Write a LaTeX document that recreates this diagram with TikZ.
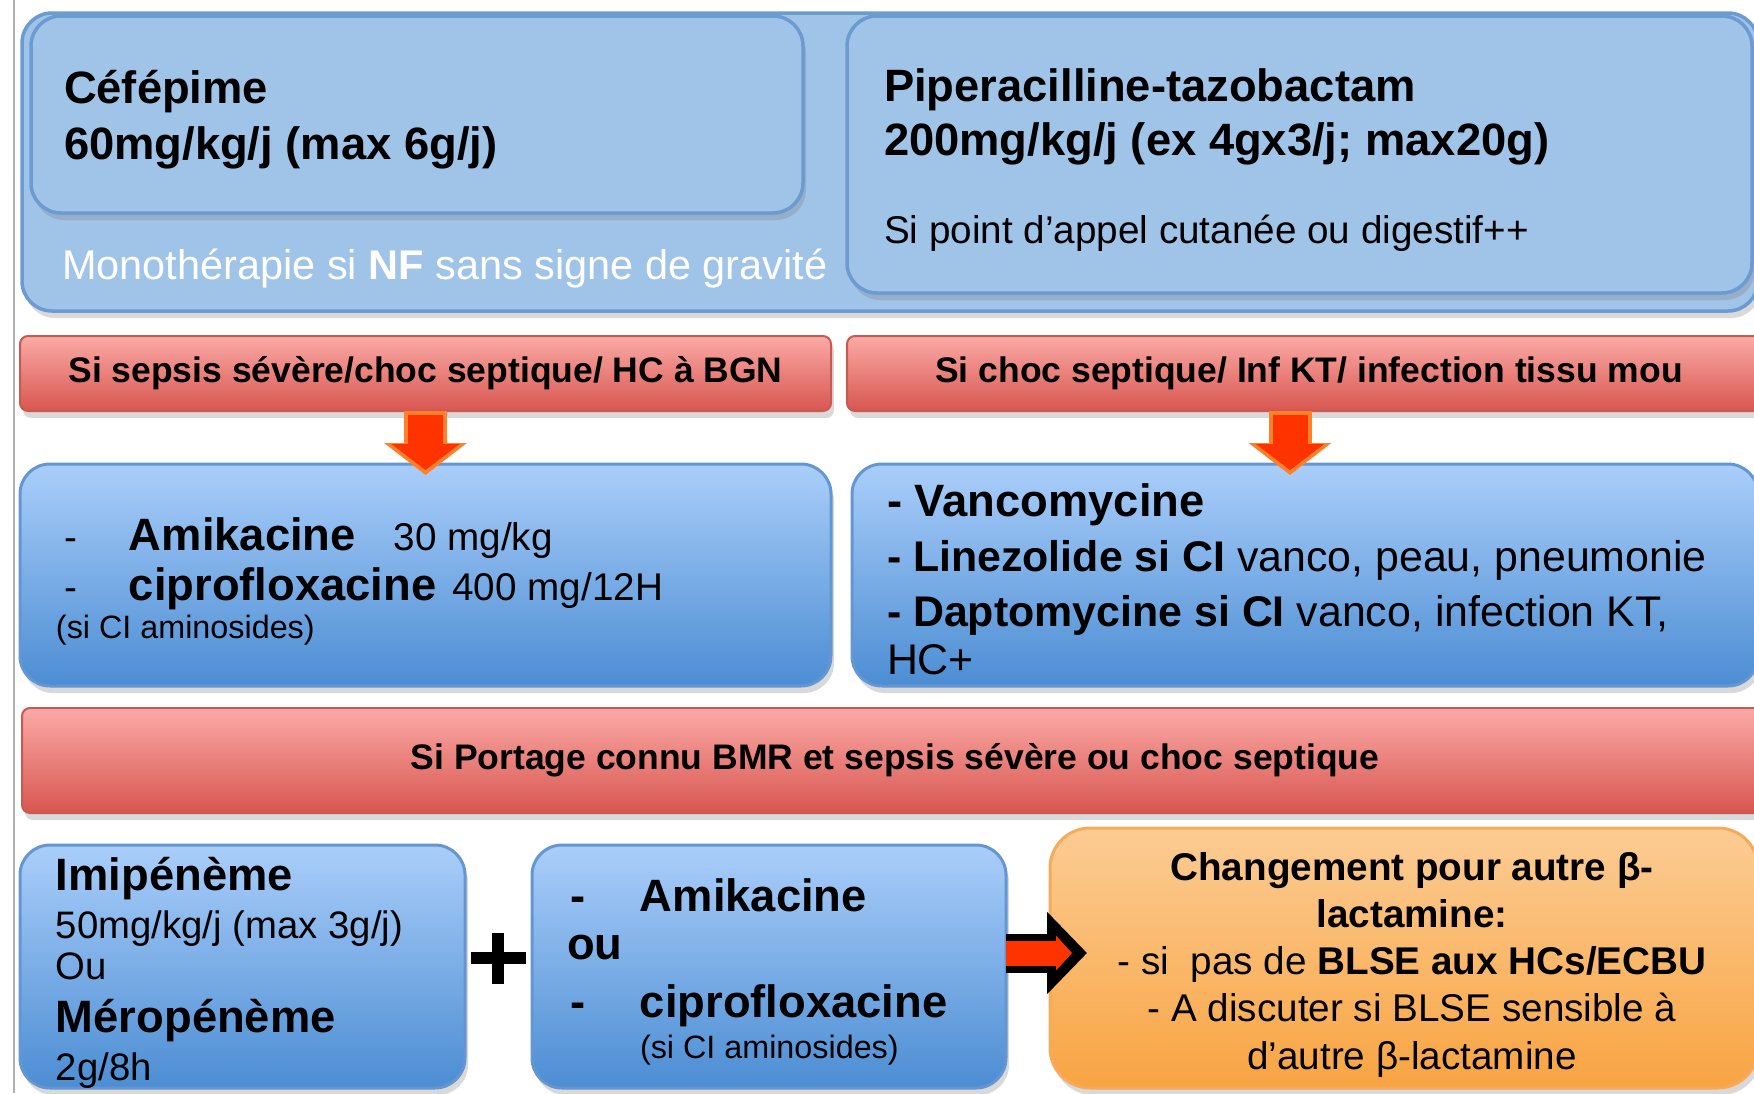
\documentclass[tikz,border=0pt]{standalone}
\usepackage{fontspec}
\setmainfont{Liberation Sans}
\usetikzlibrary{shadows,arrows.meta}
\definecolor{monofill}{RGB}{160,195,232}
\definecolor{monoline}{RGB}{108,155,210}
\definecolor{bluetop}{RGB}{170,206,250}
\definecolor{bluebot}{RGB}{76,141,211}
\definecolor{blueline}{RGB}{100,150,210}
\definecolor{redtop}{RGB}{251,170,166}
\definecolor{redbot}{RGB}{216,86,80}
\definecolor{redline}{RGB}{200,90,86}
\definecolor{orangetop}{RGB}{252,204,148}
\definecolor{orangebot}{RGB}{248,164,66}
\definecolor{orangeline}{RGB}{246,170,90}
\definecolor{arrowred}{RGB}{255,51,0}
\definecolor{arroworange}{RGB}{255,128,40}
\definecolor{framegray}{RGB}{176,176,176}
\begin{document}
\begin{tikzpicture}[x=0.1mm, y=-0.1mm, every node/.style={inner sep=0, outer sep=0},
    boxshadow/.style={drop shadow={opacity=0.3, shadow xshift=0.3mm, shadow yshift=-0.7mm}},
    monobox/.style={anchor=north west, draw=monoline, line width=0.35mm, fill=monofill,
      rounded corners=3mm, boxshadow},
    condbox/.style={anchor=north west, draw=redline, line width=0.2mm, top color=redtop,
      bottom color=redbot, rounded corners=0.8mm, boxshadow, minimum height=7.5mm,
      font=\bfseries\fontsize{10.1}{12}\selectfont},
    drugbox/.style={anchor=north west, draw=blueline, line width=0.3mm, top color=bluetop,
      bottom color=bluebot, rounded corners=3mm, boxshadow},
    changebox/.style={anchor=north west, draw=orangeline, line width=0.3mm, top color=orangetop,
      bottom color=orangebot, rounded corners=4mm, boxshadow},
    txt/.style={anchor=base west, align=left},
    downout/.style={arroworange, line width=4.3mm, -{Triangle[width=8.1mm,length=3.2mm]}, shorten >=-1.1mm},
    downin/.style={arrowred, line width=3.5mm, -{Triangle[width=6.7mm,length=2.6mm]}, shorten <=0.4mm, shorten >=-0.6mm},
    rightout/.style={black, line width=3.9mm, -{Triangle[width=8mm,length=4mm]}, shorten >=-3.7mm},
    rightin/.style={arrowred, line width=2.5mm, -{Triangle[width=3.4mm,length=1.6mm]}, shorten >=-2.2mm}]
  \useasboundingbox (0,0) rectangle (1754,1093);
  \draw[framegray, line width=0.25mm] (14,0) -- (14,1093);

  \node[monobox, minimum width=173.6mm, minimum height=29.8mm] (mono) at (22,13) {};
  \node[monobox, minimum width=77.2mm, minimum height=19.7mm] (cefe) at (31,16) {};
  \node[monobox, minimum width=90.5mm, minimum height=27.7mm] (pip) at (847,16) {};

  \node[condbox, minimum width=81.1mm] (sep1) at (20,336) {Si sepsis sévère/choc septique/ HC à BGN};
  \node[condbox, minimum width=92.4mm] (sep2) at (847,336) {Si choc septique/ Inf KT/ infection tissu mou};

  \node[drugbox, minimum width=81.1mm, minimum height=22.2mm] (drugA) at (20,464) {};
  \node[drugbox, minimum width=90.6mm, minimum height=22.2mm] (drugB) at (852,464) {};

  \node[condbox, minimum width=174.6mm, minimum height=10.5mm] (sep3) at (22,708) {Si Portage connu BMR et sepsis sévère ou choc septique};

  \node[drugbox, minimum width=44.5mm, minimum height=24.3mm] (carbA) at (20,845) {};
  \node[drugbox, minimum width=47.4mm, minimum height=24.3mm] (aminoB) at (532,845) {};
  \node[changebox, minimum width=70.8mm, minimum height=26mm] (change) at (1050,828) {};

  \node[txt, font=\bfseries\fontsize{12.9}{15.9}\selectfont] (cefetxt) at (64,159)
    {Céfépime\\60mg/kg/j (max 6g/j)};
  \node[txt, text=white, font=\fontsize{11.8}{14}\selectfont] (monotxt) at (62,279)
    {Monothérapie si \textbf{NF} sans signe de gravité};
  \node[txt, font=\bfseries\fontsize{12.9}{15.4}\selectfont] (piptxt) at (884,243)
    {Piperacilline-tazobactam\\200mg/kg/j (ex 4gx3/j; max20g)\\[9.4pt]
     {\mdseries\fontsize{11}{13}\selectfont Si point d’appel cutanée ou digestif++}};

  \node[txt, font=\fontsize{11}{14.2}\selectfont] (amiktxt) at (56,638)
    {\hspace*{0.8mm}\makebox[6.5mm][l]{-}{\bfseries\fontsize{12.9}{15}\selectfont Amikacine}\hspace{3.8mm}30 mg/kg\\
     \hspace*{0.8mm}\makebox[6.5mm][l]{-}{\bfseries\fontsize{12.9}{15}\selectfont ciprofloxacine}\hspace{1.6mm}400 mg/12H\\[-3.4pt]
     {\fontsize{9.2}{11}\selectfont (si CI aminosides)}};
  \node[txt, font=\fontsize{12.2}{15.6}\selectfont] (vanctxt) at (887,674)
    {{\bfseries\fontsize{12.9}{15}\selectfont - Vancomycine}\\
     \textbf{- Linezolide si CI} vanco, peau, pneumonie\\
     \textbf{- Daptomycine si CI} vanco, infection KT,\\[-2pt]
     HC+};

  \node[txt, font=\fontsize{10.9}{13.4}\selectfont] (carbtxt) at (56,1080)
    {{\bfseries\fontsize{12.9}{15}\selectfont Imipénème}\\
     50mg/kg/j (max 3g/j)\\[-1.5pt]
     Ou\\[1.7pt]
     {\bfseries\fontsize{12.9}{15}\selectfont Méropénème}\\
     2g/8h};
  \node[txt, font=\bfseries\fontsize{12.9}{13.9}\selectfont] (amik2txt) at (567,1058)
    {\hspace*{0.3mm}\makebox[7mm][l]{-}Amikacine\\
     ou\\[2.6pt]
     \hspace*{0.3mm}\makebox[7mm][l]{-}ciprofloxacine\\[-2.5pt]
     \hspace*{7.3mm}{\mdseries\fontsize{9.2}{11}\selectfont (si CI aminosides)}};
  \node[anchor=base, align=center, font=\fontsize{11}{13.4}\selectfont] (changetxt) at (1412,1069)
    {\textbf{Changement pour autre β-}\\
     \textbf{lactamine:}\\
     - si\ \ pas de \textbf{BLSE aux HCs/ECBU}\\
     - A discuter si BLSE sensible à\\
     d'autre β-lactamine};

  \draw[downout] (sep1.south) -- (sep1.south |- drugA.north);
  \draw[downin] (sep1.south) -- (sep1.south |- drugA.north);
  \draw[downout] ([xshift=-1.9mm]sep2.south) -- ([xshift=-1.9mm]sep2.south |- drugB.north);
  \draw[downin] ([xshift=-1.9mm]sep2.south) -- ([xshift=-1.9mm]sep2.south |- drugB.north);

  \coordinate (plus) at (498,958);
  \draw[line width=1.15mm] ([xshift=-2.75mm]plus) -- ([xshift=2.75mm]plus)
    ([yshift=2.55mm]plus) -- ([yshift=-2.55mm]plus);

  \draw[rightout] ([yshift=1.35mm]aminoB.east) -- ([yshift=1.35mm]aminoB.east -| change.west);
  \draw[rightin] ([yshift=1.35mm]aminoB.east) -- ([yshift=1.35mm]aminoB.east -| change.west);
\end{tikzpicture}
\end{document}
